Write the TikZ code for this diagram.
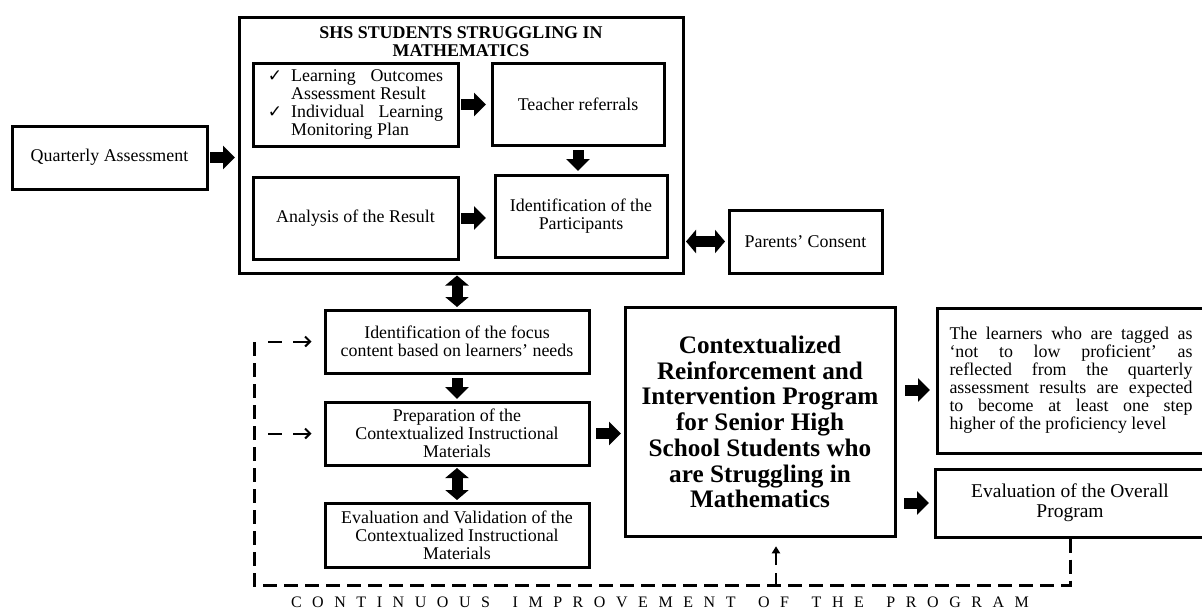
\documentclass[tikz,border=0pt]{standalone}
\usepackage{fontspec}
\setmainfont{Liberation Serif}
\newfontfamily\checkfont{DejaVu Sans}
\newfontfamily\spacedfont[LetterSpace=66]{Liberation Serif}
\usetikzlibrary{positioning, arrows.meta}
\newcommand{\txt}{\fontsize{17.9}{18}\selectfont}
\newcommand{\bigtxt}{\fontsize{25.2}{25.7}\selectfont\bfseries}
\newcommand{\midtxt}{\fontsize{19.5}{20}\selectfont}
\newcommand{\tick}{{\checkfont\fontsize{17}{17}\selectfont ✓}}
\newcommand{\wsp}{\ \hspace{8pt}}

\tikzset{
  box/.style={draw, line width=3pt, align=center, inner sep=0pt, font=\txt},
  fat/.style={line width=11pt, -{Triangle[length=12pt,width=23pt]}},
  fatboth/.style={line width=11pt, {Triangle[length=10pt,width=23pt]}-{Triangle[length=10pt,width=23pt]}},
  loopline/.style={line width=3pt, dash pattern=on 14pt off 7pt},
  fbarrow/.style={line width=2pt, dash pattern=on 14pt off 11pt on 40pt, -{Straight Barb[length=5pt,width=10pt]}},
  fbup/.style={line width=2.5pt, dash pattern=on 12pt off 8pt, -{Triangle[length=7pt,width=8pt]}}
}

\begin{document}
\begin{tikzpicture}[x=1pt,y=-1pt]
\useasboundingbox (0,0) rectangle (1202,613);
\clip (0,0) rectangle (1202,613);
\node[box, minimum width=195pt, minimum height=63pt] (qa) at (109.5,157.5) {Quarterly Assessment};
\node[box, minimum width=444pt, minimum height=256pt] (shs) at (461,145) {};
\node[font=\txt\bfseries, align=center, inner sep=0pt] (shstitle) at (461,42) {SHS STUDENTS STRUGGLING IN\\MATHEMATICS};
\node[box, minimum width=205pt, minimum height=83pt] (lo) at (355.5,104.5) {\begin{tabular}{@{}l@{\hspace{9pt}}p{152pt}@{}}\tick & Learning Outcomes Assessment Result\\ \tick & Individual Learning Monitoring Plan\end{tabular}};
\node[box, minimum width=172pt, minimum height=82pt] (tr) at (578,104) {Teacher referrals};
\node[box, minimum width=205pt, minimum height=82pt] (an) at (355.5,218) {Analysis of the Result};
\node[box, minimum width=172pt, minimum height=82pt] (idp) at (581,216) {Identification of the\\Participants};
\node[box, minimum width=153pt, minimum height=63pt] (pc) at (805.5,241.5) {Parents’ Consent};
\node[box, minimum width=264pt, minimum height=63pt] (focus) at (457,341.5) {Identification of the focus\\content based on learners’ needs};
\node[box, minimum width=264pt, minimum height=63pt] (prep) at (457,433.5) {Preparation of the\\Contextualized Instructional\\Materials};
\node[box, minimum width=264pt, minimum height=64pt] (evalcim) at (457,535) {Evaluation and Validation of the\\Contextualized Instructional\\Materials};
\node[box, minimum width=270pt, minimum height=229.5pt, font=\bigtxt] (big) at (760,422) {Contextualized\\Reinforcement and\\Intervention Program\\for Senior High\\School Students who\\are Struggling in\\Mathematics};
\node[box, minimum height=145pt, text width=243pt, inner xsep=12.5pt, align=justify] (learn) at (1071,380.5) {The learners who are tagged as\linebreak ‘not to low proficient’ as\linebreak reflected from the quarterly\linebreak assessment results are expected\linebreak to become at least one step\linebreak higher of the proficiency level};
\node[box, minimum width=270pt, minimum height=68pt, font=\midtxt] (evall) at (1070,503) {Evaluation of the Overall\\Program};
\node[font=\spacedfont\fontsize{16}{16}\selectfont, inner sep=0pt] (cim) at (660,602) {CONTINUOUS\wsp IMPROVEMENT\wsp OF\wsp THE\wsp PROGRAM};

\draw[fat, shorten <=1.5pt, shorten >=2.5pt] (qa.east) -- (qa.east -| shs.west);
\draw[fat, shorten <=1.5pt, shorten >=4.5pt] (lo.east) -- (lo.east -| tr.west);
\draw[fat, shorten <=3.5pt, shorten >=2.5pt] (tr.south) -- (tr.south |- idp.north);
\draw[fat, shorten <=1.5pt, shorten >=7.5pt] (an.east) -- (an.east -| idp.west);
\draw[fatboth, shorten <=1.5pt, shorten >=2.5pt] (pc.west -| shs.east) -- (pc.west);
\draw[fatboth, shorten <=1pt, shorten >=1.5pt] (shs.south -| focus.north) -- (focus.north);
\draw[fat, shorten <=3.5pt, shorten >=1.5pt] (focus.south) -- (prep.north);
\draw[fatboth, shorten <=1.5pt, shorten >=1.5pt] (prep.south) -- (evalcim.north);
\draw[fat, shorten <=5.5pt, shorten >=2.5pt] (prep.east) -- (prep.east -| big.west);
\draw[fat, shorten <=8.5pt, shorten >=5.5pt] ([yshift=-9.5pt]learn.west -| big.east) -- ([yshift=-9.5pt]learn.west);
\draw[fat, shorten <=7.5pt, shorten >=4.5pt] (evall.west -| big.east) -- (evall.west);

\coordinate (fbcorner) at (254,585);
\coordinate (fbtop) at (254,342);
\coordinate (fbfocus) at (268,341.5);
\coordinate (fbprep) at (268,433.5);
\coordinate (upfoot) at (776,585);
\draw[loopline] (evall.south) |- (fbcorner) -- (fbtop);
\draw[fbarrow] (fbfocus) -- ([xshift=-12pt]focus.west);
\draw[fbarrow] (fbprep) -- ([xshift=-12pt]prep.west);
\draw[fbup] (upfoot) -- ([yshift=-8pt]big.south -| upfoot);
\end{tikzpicture}
\end{document}
